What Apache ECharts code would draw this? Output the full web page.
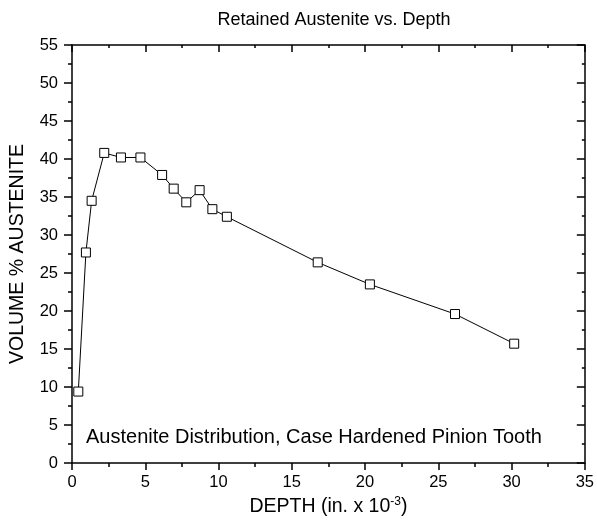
<!DOCTYPE html>
<html>
<head>
<meta charset="utf-8">
<script src="https://cdn.jsdelivr.net/npm/echarts@6/dist/echarts.min.js"></script>
<style>html,body{margin:0;padding:0;background:#fff}#c{width:597px;height:525px}</style>
</head>
<body>
<div id="c"></div>
<script>
var depth = [0.43, 0.95, 1.34, 2.2, 3.34, 4.67, 6.15, 6.94, 7.8, 8.71, 9.58, 10.57, 16.77, 20.33, 26.14, 30.18];
var austenite = [9.4, 27.7, 34.5, 40.8, 40.2, 40.2, 37.9, 36.1, 34.3, 35.9, 33.4, 32.4, 26.4, 23.5, 19.6, 15.7];
var titleText = 'Retained Austenite vs. Depth';
var noteText = 'Austenite Distribution, Case Hardened Pinion Tooth';
var xName = 'DEPTH (in. x 10{sup|-3})';
var yName = 'VOLUME % AUSTENITE';

var font = 'Arial, "Liberation Sans", sans-serif';
var chart = echarts.init(document.getElementById('c'), null, {renderer: 'canvas'});
var axisLine = {show: true, onZero: false, lineStyle: {color: '#000', width: 1.5}};
var tickStyle = {color: '#000', width: 1.5};
chart.setOption({
  animation: false,
  backgroundColor: '#fff',
  title: [
    {text: titleText, left: 329, textAlign: 'center', top: 6,
     textStyle: {fontFamily: font, fontSize: 18, fontWeight: 'normal', color: '#000'}},
    {text: noteText, left: 81, top: 422,
     textStyle: {fontFamily: font, fontSize: 20, fontWeight: 'normal', color: '#000'}}
  ],
  grid: {left: 72, right: 11, top: 45, bottom: 62},
  xAxis: [
    {type: 'value', min: 0, max: 35, interval: 5, position: 'bottom',
     name: xName, nameLocation: 'middle', nameGap: 33,
     nameTextStyle: {fontFamily: font, fontSize: 19.5, color: '#000',
       rich: {sup: {fontFamily: font, fontSize: 12, color: '#000', verticalAlign: 'top', padding: [0, 0, 10, 0]}}},
     axisLine: axisLine,
     axisTick: {show: true, inside: false, length: 7, lineStyle: tickStyle},
     minorTick: {show: true, splitNumber: 2, length: 4, lineStyle: tickStyle},
     axisLabel: {fontFamily: font, fontSize: 16.5, color: '#000', margin: 11},
     splitLine: {show: false}},
    {type: 'value', min: 0, max: 35, interval: 5, position: 'top',
     axisLine: axisLine,
     axisTick: {show: true, inside: true, length: 7, lineStyle: tickStyle},
     minorTick: {show: true, splitNumber: 2, length: 3, lineStyle: tickStyle},
     axisLabel: {show: false}, splitLine: {show: false}}
  ],
  yAxis: [
    {type: 'value', min: 0, max: 55, interval: 5, position: 'left',
     name: yName, nameLocation: 'middle', nameGap: 44,
     nameTextStyle: {fontFamily: font, fontSize: 19.5, color: '#000'},
     axisLine: axisLine,
     axisTick: {show: true, inside: false, length: 8, lineStyle: tickStyle},
     minorTick: {show: true, splitNumber: 2, length: 4, lineStyle: tickStyle},
     axisLabel: {fontFamily: font, fontSize: 16.5, color: '#000', margin: 14},
     splitLine: {show: false}},
    {type: 'value', min: 0, max: 55, interval: 5, position: 'right',
     axisLine: axisLine,
     axisTick: {show: true, inside: true, length: 8, lineStyle: tickStyle},
     minorTick: {show: true, splitNumber: 2, length: 3, lineStyle: tickStyle},
     axisLabel: {show: false}, splitLine: {show: false}}
  ],
  series: [{
    type: 'line',
    data: depth.map(function (d, i) { return [d, austenite[i]]; }),
    xAxisIndex: 0, yAxisIndex: 0,
    symbol: 'rect', symbolSize: 9, showAllSymbol: true,
    lineStyle: {color: '#000', width: 1},
    itemStyle: {color: '#fff', borderColor: '#000', borderWidth: 1},
    emphasis: {disabled: true}
  }]
});
</script>
</body>
</html>
